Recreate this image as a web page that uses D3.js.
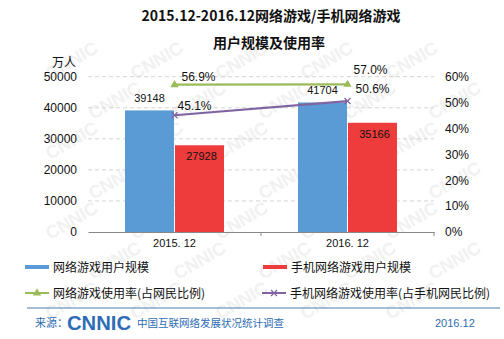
<!DOCTYPE html>
<html><head><meta charset="utf-8">
<script src="https://cdn.jsdelivr.net/npm/d3@7"></script>
<style>body{margin:0;background:#fff}svg{display:block}</style>
</head><body>
<script>
const categories = ["2015. 12", "2016. 12"];
const seriesNames = ["网络游戏用户规模", "手机网络游戏用户规模", "网络游戏使用率(占网民比例)", "手机网络游戏使用率(占手机网民比例)"];
const gameUsers = [39148, 41704];
const mobileGameUsers = [27928, 35166];
const gameRate = [56.9, 57.0];
const mobileGameRate = [45.1, 50.6];
const leftTicks = [0, 10000, 20000, 30000, 40000, 50000];
const rightTicks = [0, 10, 20, 30, 40, 50, 60];

const W = 504, H = 339;
const svg = d3.select("body").append("svg").attr("width", W).attr("height", H);
const cjk = "'Noto Sans CJK SC','Microsoft YaHei',sans-serif";
const num = "'Liberation Sans',Arial,sans-serif";

// faint watermark, kept fully inside the picture
const wm = svg.append("g").attr("fill", "#f1f1f1").attr("font-family", num).attr("font-weight", "bold").attr("font-size", 18);
for (let r = 0; r < 9; r++) for (let c = 0; c < 7; c++) {
  const t = wm.append("text").attr("transform", `translate(${c * 85 + 8 + (r % 2) * 42},${r * 40 + 40}) rotate(-30)`).text("CNNIC");
  const b = t.node().getBoundingClientRect();
  if (b.left < 1 || b.top < 1 || b.right > W - 1 || b.bottom > H - 1) t.remove();
}

const m = {l: 88, r: 434, t: 76.7, b: 232};
const x = d3.scaleBand().domain(categories).range([m.l, m.r]);
const inner = d3.scaleBand().domain([0, 1]).range([0, x.bandwidth()]).paddingOuter(0.74).paddingInner(0.02);
const yL = d3.scaleLinear().domain([0, 50000]).range([m.b, m.t]);
const yR = d3.scaleLinear().domain([0, 60]).range([m.b, m.t]);

// title
svg.append("text").attr("x", 271).attr("y", 21).attr("text-anchor", "middle").attr("font-family", cjk).attr("font-weight", "bold").attr("font-size", 14).attr("fill", "#111").text("2015.12-2016.12网络游戏/手机网络游戏");
svg.append("text").attr("x", 269).attr("y", 48).attr("text-anchor", "middle").attr("font-family", cjk).attr("font-weight", "bold").attr("font-size", 14).attr("fill", "#111").text("用户规模及使用率");
svg.append("text").attr("x", 64).attr("y", 67).attr("text-anchor", "middle").attr("font-family", cjk).attr("font-size", 12).attr("fill", "#111").text("万人");

// grid
svg.append("g").selectAll("line").data(leftTicks.filter(d => d > 0)).join("line")
  .attr("x1", m.l).attr("x2", m.r).attr("y1", d => yL(d)).attr("y2", d => yL(d))
  .attr("stroke", "#d4d4d4").attr("stroke-dasharray", "4,3");

// axes
const gl = svg.append("g").attr("transform", `translate(${m.l},0)`)
  .call(d3.axisLeft(yL).tickValues(leftTicks).tickSize(0).tickPadding(11).tickFormat(d3.format("d")));
gl.select(".domain").remove();
gl.selectAll("text").attr("font-family", num).attr("font-size", 12).attr("fill", "#111");
const gr = svg.append("g").attr("transform", `translate(${m.r},0)`)
  .call(d3.axisRight(yR).tickValues(rightTicks).tickSize(0).tickPadding(11).tickFormat(d => d + "%"));
gr.select(".domain").remove();
gr.selectAll("text").attr("font-family", num).attr("font-size", 12).attr("fill", "#111");

// bars
const series = [gameUsers, mobileGameUsers];
const colors = ["#5B9BD5", "#EE3B3B"];
series.forEach((s, i) => {
  svg.append("g").selectAll("rect").data(categories).join("rect")
    .attr("x", c => x(c) + inner(i)).attr("width", inner.bandwidth())
    .attr("y", (c, j) => yL(s[j])).attr("height", (c, j) => m.b - yL(s[j]))
    .attr("fill", colors[i]);
});

// x axis
const gx = svg.append("g").attr("transform", `translate(0,${m.b})`)
  .call(d3.axisBottom(x).tickSize(0).tickPadding(7));
gx.select(".domain").attr("stroke", "#888");
gx.selectAll("text").attr("font-family", num).attr("font-size", 11).attr("fill", "#111");
svg.append("g").selectAll("line").data([x(categories[1]), m.r]).join("line")
  .attr("x1", d => d).attr("x2", d => d).attr("y1", m.b).attr("y2", m.b + 4).attr("stroke", "#888");

// bar labels
categories.forEach((c, j) => {
  svg.append("text").attr("x", x(c) + inner(0) + inner.bandwidth() / 2).attr("y", yL(gameUsers[j]) - 8)
    .attr("text-anchor", "middle").attr("font-family", num).attr("font-size", 11).attr("fill", "#111").text(gameUsers[j]);
  svg.append("text").attr("x", x(c) + inner(1) + inner.bandwidth() / 2 + 2).attr("y", yL(mobileGameUsers[j]) + 15)
    .attr("text-anchor", "middle").attr("font-family", num).attr("font-size", 11).attr("fill", "#111").text(mobileGameUsers[j]);
});

// lines
const lx = c => x(c) + x.bandwidth() / 2;
const green = "#9BBB59", purple = "#8064A2";
svg.append("path").datum(gameRate).attr("fill", "none").attr("stroke", green).attr("stroke-width", 2.2)
  .attr("d", d3.line().x((d, j) => lx(categories[j])).y(d => yR(d)));
svg.append("path").datum(mobileGameRate).attr("fill", "none").attr("stroke", purple).attr("stroke-width", 2.2)
  .attr("d", d3.line().x((d, j) => lx(categories[j])).y(d => yR(d)));
const tri = d3.symbol().type(d3.symbolTriangle).size(30);
gameRate.forEach((v, j) => {
  svg.append("path").attr("d", tri()).attr("transform", `translate(${lx(categories[j])},${yR(v)})`).attr("fill", green);
});
mobileGameRate.forEach((v, j) => {
  svg.append("path").attr("d", "M-3,-3L3,3M-3,3L3,-3").attr("transform", `translate(${lx(categories[j])},${yR(v)})`).attr("stroke", purple).attr("stroke-width", 1.2);
});
// rate labels
const rl = (t, xx, yy) => svg.append("text").attr("x", xx).attr("y", yy).attr("font-family", num).attr("font-size", 12).attr("fill", "#111").text(t);
rl(gameRate[0].toFixed(1) + "%", lx(categories[0]) + 7, yR(gameRate[0]) - 4);
rl(mobileGameRate[0].toFixed(1) + "%", lx(categories[0]) + 3, yR(mobileGameRate[0]) - 5);
rl(gameRate[1].toFixed(1) + "%", lx(categories[1]) + 6, yR(gameRate[1]) - 10);
rl(mobileGameRate[1].toFixed(1) + "%", lx(categories[1]) + 8, yR(mobileGameRate[1]) - 8);

// legend
const lg = svg.append("g").attr("font-family", cjk).attr("font-size", 12).attr("fill", "#111");
const legPos = [[25, 267], [263, 267], [25, 293], [262, 293]];
const legCol = ["#5B9BD5", "#EE3B3B", green, purple];
seriesNames.forEach((n, i) => {
  const [lx0, ly] = legPos[i];
  if (i < 2) {
    lg.append("rect").attr("x", lx0).attr("y", ly - 2).attr("width", 24).attr("height", 4).attr("fill", legCol[i]);
  } else {
    lg.append("line").attr("x1", lx0).attr("x2", lx0 + 24).attr("y1", ly).attr("y2", ly).attr("stroke", legCol[i]).attr("stroke-width", 2);
    if (i === 2) lg.append("path").attr("d", tri()).attr("transform", `translate(${lx0 + 12},${ly})`).attr("fill", green);
    else lg.append("path").attr("d", "M-3,-3L3,3M-3,3L3,-3").attr("transform", `translate(${lx0 + 12},${ly})`).attr("stroke", purple).attr("stroke-width", 1.2);
  }
  lg.append("text").attr("x", lx0 + 28).attr("y", ly + 4.5).text(n);
});

// footer
svg.append("line").attr("x1", 27).attr("x2", 500).attr("y1", 308).attr("y2", 308).attr("stroke", "#4A7FB0").attr("stroke-width", 1);
const blue = "#2E6DB4";
svg.append("text").attr("x", 35).attr("y", 327).attr("font-family", cjk).attr("font-size", 11).attr("fill", blue).text("来源：");
svg.append("text").attr("x", 67).attr("y", 330).attr("font-family", num).attr("font-weight", "bold").attr("font-size", 20).attr("fill", blue).attr("textLength", 64).attr("lengthAdjust", "spacingAndGlyphs").text("CNNIC");
svg.append("text").attr("x", 137).attr("y", 327).attr("font-family", cjk).attr("font-size", 10.5).attr("fill", blue).text("中国互联网络发展状况统计调查");
svg.append("text").attr("x", 435).attr("y", 327).attr("font-family", num).attr("font-size", 11).attr("fill", blue).text("2016.12");
</script>
</body></html>
